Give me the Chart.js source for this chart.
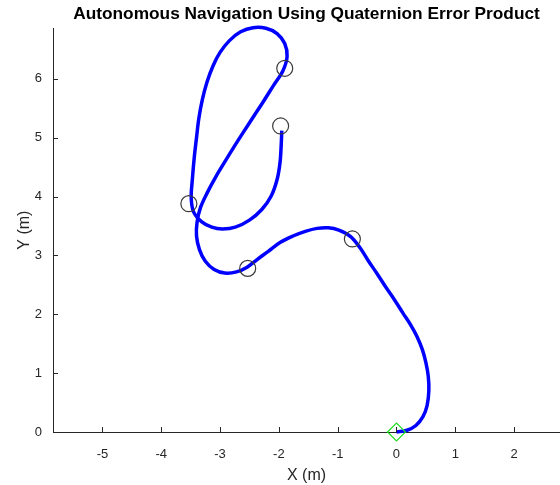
<!DOCTYPE html>
<html>
<head>
<meta charset="utf-8">
<title>Autonomous Navigation</title>
<script src="https://cdn.jsdelivr.net/npm/chart.js@4.4.0/dist/chart.umd.min.js"></script>
<style>
  html, body { margin: 0; padding: 0; background: #fff; }
  #wrap { width: 560px; height: 485px; }
</style>
</head>
<body>
<div id="wrap"><canvas id="navChart" width="560" height="485"></canvas></div>
<script>
// Trajectory (metres)
const pathX = [0, 0.18, 0.33, 0.45, 0.52, 0.55, 0.54, 0.50, 0.44, 0.35, 0.24, 0.11, -0.03, -0.18, -0.33,
  -0.48, -0.62, -0.78, -0.98, -1.16, -1.35, -1.55, -1.76, -1.98, -2.18, -2.37, -2.54, -2.72, -2.92, -3.10,
  -3.25, -3.35, -3.40, -3.39, -3.33, -3.21, -3.07, -2.92, -2.76, -2.60, -2.43, -2.26, -2.09, -1.93, -1.86,
  -1.90, -2.03, -2.22, -2.44, -2.65, -2.84, -3.00, -3.12, -3.22, -3.30, -3.36, -3.40, -3.44, -3.47, -3.49,
  -3.45, -3.31, -3.14, -2.96, -2.74, -2.50, -2.29, -2.13, -2.03, -1.98, -1.96, -1.95];
const pathY = [0, 0.03, 0.11, 0.26, 0.45, 0.70, 0.95, 1.18, 1.40, 1.62, 1.82, 2.02, 2.24, 2.46, 2.69,
  2.91, 3.13, 3.32, 3.43, 3.47, 3.46, 3.41, 3.33, 3.22, 3.07, 2.93, 2.80, 2.72, 2.70, 2.76,
  2.90, 3.10, 3.33, 3.57, 3.82, 4.08, 4.34, 4.59, 4.85, 5.10, 5.36, 5.62, 5.89, 6.14, 6.38,
  6.60, 6.77, 6.86, 6.87, 6.80, 6.65, 6.45, 6.22, 5.95, 5.65, 5.33, 5.00, 4.65, 4.30, 3.98,
  3.74, 3.57, 3.48, 3.45, 3.48, 3.60, 3.78, 4.01, 4.29, 4.58, 4.88, 5.12];

// Waypoints (circles) and start (diamond)
const wpX = [-0.75, -2.53, -3.53, -1.90, -1.97];
const wpY = [3.28, 2.78, 3.88, 6.18, 5.20];
const startX = [0];
const startY = [0];

// Tick labels
const xTicks = [-5, -4, -3, -2, -1, 0, 1, 2];
const yTicks = [0, 1, 2, 3, 4, 5, 6];

const axisColor = '#262626';
const font = 'Liberation Sans, Arial, Helvetica, sans-serif';

const toPoints = (xs, ys) => xs.map((x, i) => ({ x: x, y: ys[i] }));

// MATLAB style inward tick marks
const innerTicks = {
  id: 'innerTicks',
  afterDraw(chart) {
    const c = chart.ctx;
    const area = chart.chartArea;
    const sx = chart.scales.x, sy = chart.scales.y;
    c.save();
    c.strokeStyle = axisColor;
    c.lineWidth = 1;
    c.beginPath();
    xTicks.forEach(v => {
      const px = Math.round(sx.getPixelForValue(v)) + 0.5;
      c.moveTo(px, area.bottom);
      c.lineTo(px, area.bottom - 5);
    });
    yTicks.forEach(v => {
      const py = Math.round(sy.getPixelForValue(v)) + 0.5;
      c.moveTo(area.left, py);
      c.lineTo(area.left + 5, py);
    });
    c.stroke();
    c.restore();
  }
};

new Chart(document.getElementById('navChart'), {
  type: 'scatter',
  data: {
    datasets: [
      {
        label: 'Start',
        data: toPoints(startX, startY),
        pointStyle: 'rectRot',
        pointRadius: 9,
        pointBorderColor: '#22dd22',
        pointBackgroundColor: 'rgba(0,0,0,0)',
        pointBorderWidth: 1.2,
        showLine: false,
        clip: false
      },
      {
        label: 'Waypoints',
        data: toPoints(wpX, wpY),
        pointStyle: 'circle',
        pointRadius: 8,
        pointBorderColor: '#3a3a3a',
        pointBackgroundColor: 'rgba(0,0,0,0)',
        pointBorderWidth: 1.2,
        showLine: false,
        clip: false
      },
      {
        label: 'Path',
        data: toPoints(pathX, pathY),
        showLine: true,
        borderColor: '#0000ff',
        borderWidth: 3.5,
        pointRadius: 0,
        tension: 0.35,
        clip: 6
      }
    ]
  },
  options: {
    responsive: false,
    animation: false,
    layout: { autoPadding: false, padding: 0 },
    plugins: {
      legend: { display: false },
      tooltip: { enabled: false },
      title: {
        display: true,
        text: 'Autonomous Navigation Using Quaternion Error Product',
        fullSize: false,
        color: '#000',
        font: { family: font, size: 17.3, weight: 'bold' },
        padding: { top: 4, bottom: 3.5 }
      }
    },
    scales: {
      x: {
        type: 'linear',
        min: -5.84,
        max: 2.78,
        afterBuildTicks: s => { s.ticks = xTicks.map(v => ({ value: v })); },
        afterFit: s => { s.height = 53; },
        grid: { display: true, drawOnChartArea: false, drawTicks: false },
        border: { display: true, color: axisColor, width: 1 },
        ticks: { color: axisColor, padding: 15, font: { family: font, size: 13 } },
        title: {
          display: true,
          text: 'X (m)',
          color: axisColor,
          font: { family: font, size: 16 },
          padding: { top: 0, bottom: 0 }
        }
      },
      y: {
        type: 'linear',
        min: 0,
        max: 6.86,
        afterBuildTicks: s => { s.ticks = yTicks.map(v => ({ value: v })); },
        afterFit: s => { s.width = 53; },
        grid: { display: true, drawOnChartArea: false, drawTicks: false },
        border: { display: true, color: axisColor, width: 1 },
        ticks: { color: axisColor, padding: 11, font: { family: font, size: 13 } },
        title: {
          display: true,
          text: 'Y (m)',
          color: axisColor,
          font: { family: font, size: 16 },
          padding: { top: 15, bottom: 0 }
        }
      }
    }
  },
  plugins: [innerTicks]
});
</script>
</body>
</html>
